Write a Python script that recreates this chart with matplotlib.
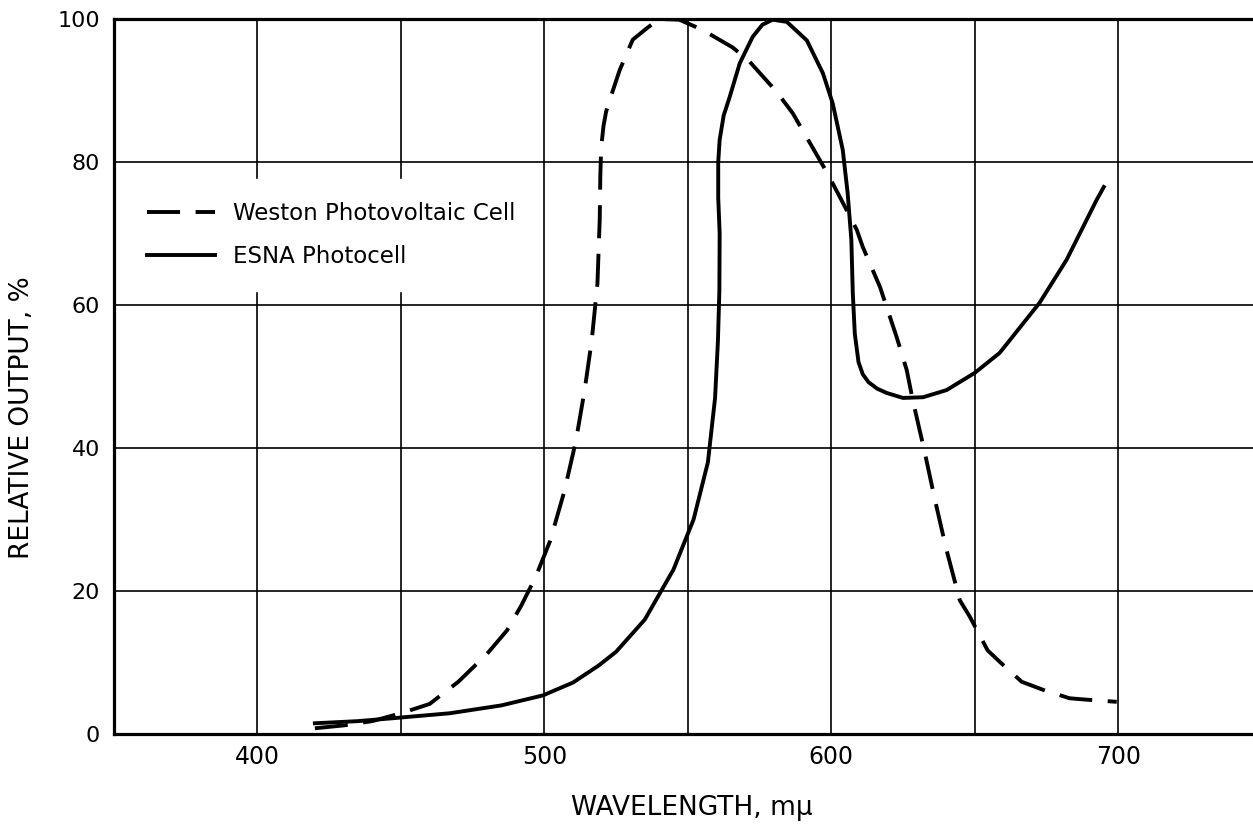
# Curvas de respuesta espectral: celda fotovoltaica Weston vs. fotocelda ESNA
import matplotlib
matplotlib.use('Agg')
import matplotlib.pyplot as plt

# Datos (longitud de onda en mμ, salida relativa en %)
weston_x = [420, 430, 440, 450, 460, 470, 480, 487, 492, 497, 502, 507, 511, 514,
            516.5, 518.5, 519.3, 519.5, 519.8, 520.6, 521.5, 522.8, 526.3, 530.8,
            535.7, 540, 547, 555, 565.7, 571.6, 581, 586.6, 592.5, 598.4, 603,
            608.9, 611, 617, 622.8, 626.3, 628.4, 630.8, 632.2, 636, 640, 644.8,
            648.3, 654.5, 658.7, 666.4, 673.7, 683, 689, 699.5]
weston_y = [0.8, 1.2, 1.8, 2.9, 4.2, 7.3, 11.2, 14.5, 18, 22, 27, 34, 41, 48,
            55, 63, 72, 78, 82, 85, 87, 88.7, 92.9, 97.1,
            98.7, 100, 99.9, 98.5, 96, 94, 89.8, 86.8, 82.7, 78.6, 75.1,
            70.5, 68.1, 62.5, 55.5, 50.9, 46.7, 42.5, 40.1, 33, 26, 18.7,
            16.4, 11.7, 10.1, 7.3, 6.2, 5.0, 4.8, 4.5]

esna_x = [420, 435, 447, 467, 485, 499.5, 510, 519, 525, 535, 545, 552, 557,
          559.5, 560.5, 561, 561.1, 560.6, 560.6, 561.1, 562.5, 564.6, 568.1,
          572.6, 576, 579.6, 584.5, 591.5, 597.1, 600.5, 604, 605.7, 607,
          607.5, 608.2, 609.5, 611, 613, 616, 619.3, 625, 632, 640.2, 650,
          658.7, 672.6, 682, 692.5, 695]
esna_y = [1.5, 1.8, 2.2, 2.9, 4.0, 5.4, 7.2, 9.6, 11.5, 16, 23, 30, 38,
          47, 55, 62, 70, 75, 80, 83.1, 86.5, 89.1, 93.8,
          97.5, 99.2, 99.9, 99.6, 97, 92.4, 88.2, 81.7, 75.7, 69.1,
          61.7, 56, 52, 50.3, 49.2, 48.3, 47.7, 47, 47.1, 48.1, 50.5,
          53.3, 60.3, 66.3, 74.7, 76.5]

x_ticks = [400, 500, 600, 700]
x_grid = [450, 550, 650]
y_ticks = [0, 20, 40, 60, 80, 100]

# Figura del tamaño pedido
fig = plt.figure(figsize=(12.53, 8.25), dpi=100)
ax = fig.add_axes([0.091, 0.1103, 0.909, 0.8667])

# Curvas
ax.plot(weston_x, weston_y, color='black', linewidth=2.8,
        linestyle=(0, (8.5, 4)), label='Weston Photovoltaic Cell')
ax.plot(esna_x, esna_y, color='black', linewidth=2.8,
        label='ESNA Photocell')

# Ejes y cuadrícula
ax.set_xlim(350, 747)
ax.set_ylim(0, 100)
ax.set_xticks(x_ticks)
ax.set_xticks(x_grid, minor=True)
ax.set_yticks(y_ticks)
ax.grid(which='both', color='black', linewidth=1.2)
ax.tick_params(which='both', length=0)
ax.tick_params(axis='x', labelsize=17, pad=8)
ax.tick_params(axis='y', labelsize=16, pad=10)

for lado in ['left', 'bottom', 'top']:
    ax.spines[lado].set_linewidth(2.3)
ax.spines['right'].set_visible(False)

# Etiquetas de los ejes
ax.set_xlabel('WAVELENGTH, mμ', fontsize=19)
ax.xaxis.set_label_coords(0.5075, -0.086)
ax.set_ylabel('RELATIVE OUTPUT, %', fontsize=19)
ax.yaxis.set_label_coords(-0.069, 0.443)

# Leyenda con fondo blanco y sin borde
leg = ax.legend(loc='upper left', bbox_to_anchor=(0.0088, 0.776), borderaxespad=0,
                fontsize=16.5, handlelength=2.97, handletextpad=0.79,
                labelspacing=0.86, borderpad=1.0, fancybox=False,
                framealpha=1, facecolor='white', edgecolor='white')

plt.savefig('out.png', dpi=100)
